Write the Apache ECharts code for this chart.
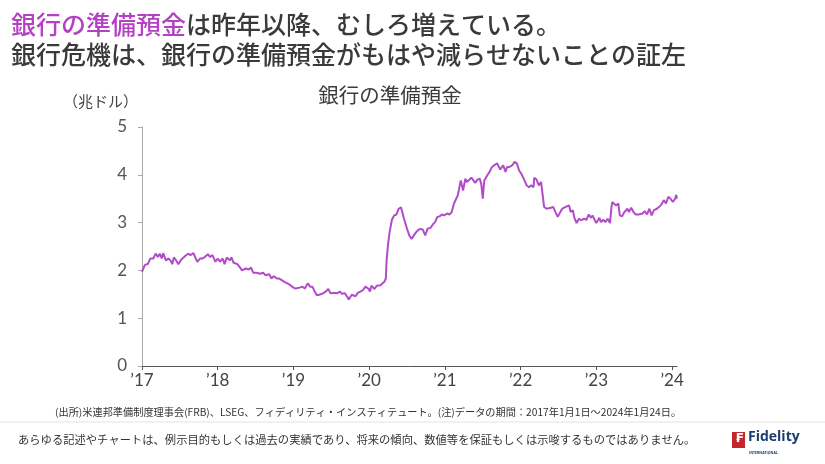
<!DOCTYPE html>
<html><head><meta charset="utf-8">
<script src="https://cdn.jsdelivr.net/npm/echarts@6/dist/echarts.min.js"></script>
<style>html,body{margin:0;padding:0;background:#fff}#c{width:825px;height:464px}</style>
</head><body><div id="c"></div>
<script>
// decimal year of each observation
var t = [
2017.00,2017.036,2017.08,2017.11,2017.15,2017.18,2017.21,2017.235,2017.26,2017.28,2017.315,2017.35,2017.38,2017.40,2017.42,2017.45,2017.48,2017.52,2017.57,2017.61,2017.64,2017.68,2017.70,2017.73,2017.77,2017.80,2017.83,2017.87,2017.90,2017.93,2017.97,
2018.00,2018.03,2018.065,2018.09,2018.12,2018.16,2018.18,2018.21,2018.26,2018.29,2018.32,2018.37,2018.41,2018.44,2018.47,2018.51,2018.56,2018.60,2018.63,2018.68,2018.71,2018.74,2018.78,2018.81,2018.84,2018.88,2018.92,2018.96,
2019.00,2019.03,2019.08,2019.12,2019.15,2019.19,2019.22,2019.25,2019.28,2019.31,2019.34,2019.39,2019.43,2019.46,2019.49,2019.53,2019.58,2019.61,2019.64,2019.68,2019.71,2019.73,2019.77,2019.79,2019.82,2019.85,2019.89,2019.92,2019.95,2019.99,
2020.01,2020.03,2020.07,2020.10,2020.15,2020.17,2020.20,2020.22,2020.23,2020.25,2020.27,2020.30,2020.33,2020.36,2020.39,2020.42,2020.46,2020.50,2020.53,2020.56,2020.61,2020.65,2020.68,2020.71,2020.74,2020.77,2020.81,2020.84,2020.87,2020.90,2020.93,2020.96,2020.99,
2021.03,2021.06,2021.09,2021.12,2021.14,2021.17,2021.20,2021.21,2021.24,2021.27,2021.29,2021.31,2021.35,2021.37,2021.40,2021.43,2021.46,2021.48,2021.50,2021.52,2021.56,2021.59,2021.62,2021.65,2021.69,2021.71,2021.73,2021.77,2021.80,2021.82,2021.86,2021.89,2021.92,2021.95,2021.98,
2022.01,2022.04,2022.08,2022.11,2022.14,2022.17,2022.18,2022.21,2022.24,2022.27,2022.29,2022.31,2022.34,2022.40,2022.43,2022.46,2022.49,2022.53,2022.55,2022.57,2022.61,2022.64,2022.66,2022.69,2022.71,2022.74,2022.77,2022.80,2022.84,2022.87,2022.90,2022.93,2022.95,2022.98,
2023.00,2023.04,2023.06,2023.09,2023.12,2023.15,2023.18,2023.20,2023.21,2023.26,2023.29,2023.31,2023.34,2023.37,2023.41,2023.43,2023.46,2023.49,2023.52,2023.56,2023.61,2023.64,2023.67,2023.70,2023.73,2023.76,2023.80,2023.83,2023.86,2023.89,2023.92,2023.95,2023.98,
2024.01,2024.04,2024.055,2024.064
];
// bank reserves, trillion USD
var v = [
1.97,2.11,2.14,2.25,2.25,2.35,2.28,2.35,2.25,2.36,2.21,2.25,2.20,2.13,2.27,2.21,2.13,2.23,2.30,2.35,2.32,2.36,2.34,2.18,2.25,2.25,2.28,2.34,2.28,2.32,2.18,
2.25,2.18,2.25,2.13,2.27,2.21,2.27,2.16,2.13,2.07,2.00,2.04,2.02,2.06,1.95,1.95,1.93,1.95,1.90,1.92,1.83,1.88,1.83,1.83,1.80,1.76,1.73,1.69,
1.64,1.62,1.64,1.66,1.62,1.73,1.66,1.66,1.56,1.48,1.49,1.52,1.56,1.61,1.52,1.53,1.52,1.56,1.51,1.52,1.45,1.39,1.49,1.53,1.46,1.53,1.56,1.59,1.66,1.62,
1.56,1.68,1.61,1.68,1.69,1.66,1.76,1.83,2.21,2.56,2.80,3.06,3.15,3.17,3.29,3.32,3.08,2.87,2.73,2.66,2.78,2.85,2.87,2.85,2.73,2.87,2.89,2.96,3.01,3.12,3.13,3.17,3.15,
3.19,3.17,3.22,3.40,3.38,3.57,3.81,3.88,3.67,3.92,3.85,3.81,3.94,3.92,3.83,3.90,3.92,3.81,3.50,3.88,3.99,4.06,4.16,4.20,4.24,4.22,4.11,4.20,4.06,4.16,4.17,4.20,4.27,4.24,4.09,
4.02,3.92,3.78,3.74,3.78,3.74,3.94,3.90,3.78,3.85,3.81,3.33,3.29,3.31,3.33,3.22,3.12,3.24,3.29,3.26,3.34,3.36,3.22,3.26,3.10,2.99,3.08,3.05,3.08,3.06,3.17,3.10,3.15,3.05,
2.99,3.10,3.01,3.06,3.01,3.08,2.99,3.33,3.43,3.36,3.40,3.15,3.13,3.22,3.29,3.22,3.31,3.22,3.17,3.17,3.19,3.24,3.17,3.29,3.15,3.26,3.29,3.33,3.38,3.47,3.40,3.54,3.50,
3.43,3.50,3.58,3.50
];
var tickYears = [2017,2018,2019,2020,2021,2022,2023,2024];

var titleTop = '銀行の準備預金';
var titleRest1 = 'は昨年以降、むしろ増えている。';
var titleLine2 = '銀行危機は、銀行の準備預金がもはや減らせないことの証左';
var chartTitle = '銀行の準備預金';
var unitLabel = '（兆ドル）';
var sourceNote = '(出所)米連邦準備制度理事会(FRB)、LSEG、フィディリティ・インスティテュート。(注)データの期間：2017年1月1日～2024年1月24日。';
var disclaimer = 'あらゆる記述やチャートは、例示目的もしくは過去の実績であり、将来の傾向、数値等を保証もしくは示唆するものではありません。';

var data = t.map(function(x,i){return [x, v[i]];});
var JP = '"Noto Sans CJK JP", sans-serif';
var LAT = 'Lato, "Noto Sans", sans-serif';

var chart = echarts.init(document.getElementById('c'), null, {renderer:'canvas'});
chart.setOption({
  animation:false,
  backgroundColor:'#fff',
  title:[{
    text:'{p|'+titleTop+'}{d|'+titleRest1+'}\n{d|'+titleLine2+'}',
    left:6, top:4,
    textStyle:{fontFamily:JP, lineHeight:30,
      rich:{p:{color:'#b440c4',fontSize:25,fontWeight:500,fontFamily:JP,lineHeight:30},
            d:{color:'#3a3a3a',fontSize:25,fontWeight:500,fontFamily:JP,lineHeight:30}}}
  },{
    text:chartTitle, left:385, top:80, textAlign:'center',
    textStyle:{fontFamily:JP, fontSize:20.5, fontWeight:'normal', color:'#3a3a3a'}
  }],
  grid:{left:142, right:148, top:127, bottom:98, containLabel:false},
  xAxis:{type:'value', min:2017, max:2024.065,
    axisLine:{show:true, lineStyle:{color:'#555', width:1}},
    axisTick:{show:true, length:4, inside:false, lineStyle:{color:'#555'}, customValues:tickYears},
    splitLine:{show:false},
    axisLabel:{customValues:tickYears, margin:6, fontFamily:LAT, fontSize:17, color:'#444',
      formatter:function(val){return '\u2019'+String(Math.round(val)).slice(2);}}
  },
  yAxis:{type:'value', min:0, max:5, interval:1,
    axisLine:{show:true, lineStyle:{color:'#aaa', width:1}},
    axisTick:{show:true, length:4, lineStyle:{color:'#aaa'}},
    splitLine:{show:false},
    axisLabel:{margin:15, fontFamily:LAT, fontSize:17, color:'#555'}
  },
  series:[{type:'line', data:data, showSymbol:false, symbol:'none',
    lineStyle:{color:'#b24bc8', width:2}, z:5}],
  graphic:[
    {type:'text', left:63, top:94, style:{text:unitLabel, font:'15px '+JP, fill:'#444'}},
    {type:'text', left:55, top:407, style:{text:sourceNote, font:'10.2px '+JP, fill:'#333'}},
    {type:'rect', shape:{x:0,y:421.5,width:825,height:1}, style:{fill:'#e3e3e3'}},
    {type:'text', left:18, top:434, style:{text:disclaimer, font:'11.3px '+JP, fill:'#333'}},
    {type:'rect', shape:{x:732,y:432,width:13,height:16}, style:{fill:'#c0282d'}},
    {type:'text', x:735, y:433, style:{text:'₣', font:'bold 12px "DejaVu Sans", sans-serif', fill:'#fff'}},
    {type:'text', x:748, y:430, style:{text:'Fidelity', font:'bold 14px "Open Sans", sans-serif', fill:'#1b3d6e'}},
    {type:'text', x:749, y:451, style:{text:'INTERNATIONAL', font:'bold 3.5px "Open Sans", sans-serif', fill:'#1b3d6e'}}
  ]
});
</script></body></html>
